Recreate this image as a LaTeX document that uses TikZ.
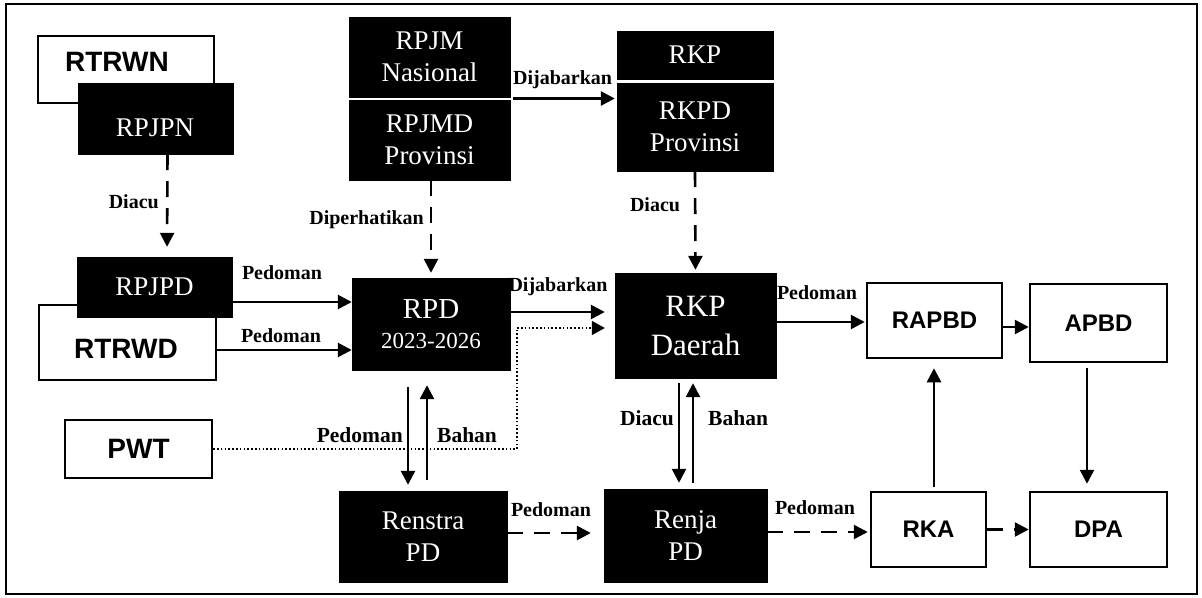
\documentclass[tikz,border=0pt]{standalone}
\usepackage{fontspec}
\setmainfont{Liberation Serif}
\newfontfamily\sansb{Liberation Sans}
\usetikzlibrary{arrows.meta,calc}
\begin{document}
\begin{tikzpicture}[x=1pt,y=-1pt,
  blk/.style={fill=black,draw=black,text=white,align=center,inner sep=0pt,font=\fontsize{27}{32}\selectfont},
  wtxt/.style={text=white,inner sep=0pt,font=\fontsize{27}{32}\selectfont},
  wbox/.style={fill=white,draw=black,line width=2.5pt,inner sep=0pt,align=center},
  bigsans/.style={font=\sansb\bfseries\fontsize{28}{30}\selectfont,inner sep=0pt},
  midsans/.style={font=\sansb\bfseries\fontsize{24}{26}\selectfont},
  lbl/.style={font=\bfseries\fontsize{20}{22}\selectfont,inner sep=1pt},
  lblb/.style={font=\bfseries\fontsize{21.5}{23}\selectfont,inner sep=1pt},
  arr/.style={line width=2.6pt,-{Triangle[length=14pt,width=14pt]}},
  darr/.style={arr,dash pattern=on 16pt off 11pt},
  dotl/.style={line width=1.6pt,dash pattern=on 1.6pt off 2.2pt},
  dotarr/.style={dotl,-{Triangle[length=13pt,width=14pt]}},
]
\useasboundingbox (0,0) rectangle (1202,597);
\draw[line width=1.2pt] (6,4) rectangle (1197,594);

% white boxes behind
\node[wbox,minimum width=176pt,minimum height=67pt] (rtrwn) at (126,69.5) {};
\node[bigsans] (rtrwnt) at (117,62) {RTRWN};
\node[wbox,minimum width=177pt,minimum height=75pt] (rtrwd) at (127.5,342.5) {};
\node[bigsans] (rtrwdt) at (126,349) {RTRWD};

% black boxes
\node[blk,minimum width=155pt,minimum height=71pt] (rpjpn) at (155.5,118.5) {};
\node[wtxt] (rpjpnt) at (155,128) {RPJPN};
\node[blk,minimum width=155pt,minimum height=60pt] (rpjpd) at (154.5,287) {RPJPD};
\node[blk,minimum width=161pt,minimum height=80pt] (rpjm) at (429.5,57) {RPJM\\Nasional};
\node[blk,minimum width=161pt,minimum height=80pt] (rpjmd) at (429.5,140) {RPJMD\\Provinsi};
\node[blk,minimum width=156pt,minimum height=48pt] (rkp) at (695,55) {RKP};
\node[blk,minimum width=156pt,minimum height=88pt] (rkpd) at (695,127) {RKPD\\Provinsi};
\node[blk,minimum width=158pt,minimum height=92pt] (rpd) at (431,324) {{\fontsize{29}{30}\selectfont RPD}\\[-2pt]{\fontsize{23}{26}\selectfont 2023-2026}};
\node[blk,minimum width=161pt,minimum height=105pt,font=\fontsize{31}{39}\selectfont] (rkpdaerah) at (695.5,325.5) {RKP\\Daerah};
\node[blk,minimum width=168pt,minimum height=91pt] (renstra) at (423,536.5) {Renstra\\PD};
\node[blk,minimum width=163pt,minimum height=93pt] (renja) at (685.5,535.5) {Renja\\PD};

% white boxes
\node[wbox,bigsans,minimum width=147pt,minimum height=58pt] (pwt) at (138.5,449) {PWT};
\node[wbox,midsans,minimum width=135pt,minimum height=75pt] (rapbd) at (934.5,320.5) {RAPBD};
\node[wbox,midsans,minimum width=137pt,minimum height=78pt] (apbd) at (1098.5,323) {APBD};
\node[wbox,midsans,minimum width=115pt,minimum height=75pt] (rka) at (928.5,529.5) {RKA};
\node[wbox,midsans,minimum width=137pt,minimum height=75pt] (dpa) at (1098.5,529.5) {DPA};

% coordinates
\coordinate (dj1) at ($(rpjm.south east)!0.5!(rpjmd.north east)$);
\coordinate (p1) at ([yshift=-15pt]rpjpd.east);
\coordinate (p2) at ([yshift=-7.5pt]rtrwd.east);
\coordinate (p3) at ([yshift=12pt]rpd.east);
\coordinate (p4) at ([xshift=7pt,yshift=-4pt]rpd.east);
\coordinate (p5) at ([yshift=3.5pt]renstra.east);
\coordinate (p6) at ([yshift=3.5pt]rkpdaerah.east);
\coordinate (p7) at ([yshift=3.5pt]renja.east);
\coordinate (p8) at ([yshift=-6.5pt]rapbd.east);

% connectors
\draw[darr,shorten >=10pt] ([xshift=12pt]rpjpn.south) -- ([xshift=12.5pt]rpjpd.north);
\draw[darr,shorten >=5pt] ([xshift=1.5pt]rpjmd.south) -- (rpd.north);
\draw[arr,shorten <=3pt,shorten >=2pt] (dj1) -- (dj1 -| rkpd.west);
\draw[darr,shorten >=3pt] (rkpd.south) -- (rkpdaerah.north);
\draw[arr] (p1) -- (p1 -| rpd.west);
\draw[arr] (p2) -- (p2 -| rpd.west);
\draw[arr,shorten >=10pt] (p3) -- (p3 -| rkpdaerah.west);
\draw[dotl] (pwt.east) -- (pwt.east -| p4) -- (p4);
\draw[dotarr,shorten >=10pt] (p4) -- (p4 -| rkpdaerah.west);
\draw[arr,shorten <=17pt,shorten >=6pt] ([xshift=-23pt]rpd.south) -- ([xshift=-15pt]renstra.north);
\draw[arr,shorten <=11pt,shorten >=15pt] ([xshift=4pt]renstra.north) -- ([xshift=-4pt]rpd.south);
\draw[darr,shorten >=13pt] (p5) -- (p5 -| renja.west);
\draw[arr,shorten <=5pt,shorten >=6pt] ([xshift=-16.5pt]rkpdaerah.south) -- ([xshift=-6.5pt]renja.north);
\draw[arr,shorten <=6pt,shorten >=5pt] ([xshift=7.5pt]renja.north) -- ([xshift=-2.5pt]rkpdaerah.south);
\draw[arr,shorten >=1pt] (p6) -- (p6 -| rapbd.west);
\draw[darr,shorten >=2pt] (p7) -- (p7 -| rka.west);
\draw[darr] (rka.east) -- (dpa.west);
\draw[arr,shorten <=4pt,shorten >=9pt] ([xshift=5.5pt]rka.north) -- ([xshift=-0.5pt]rapbd.south);
\draw[arr] (p8) -- (p8 -| apbd.west);
\draw[arr,shorten <=5pt,shorten >=7pt] ([xshift=-11.5pt]apbd.south) -- ([xshift=-11.5pt]dpa.north);

% labels
\node[lbl,anchor=east] (l1) at (160,202) {Diacu};
\node[lbl,anchor=east] (l2) at (425,220) {Diperhatikan};
\node[lbl,anchor=west] (l3) at (512,80) {Dijabarkan};
\node[lbl] (l4) at (655,205) {Diacu};
\node[lbl] (l5) at (282,273) {Pedoman};
\node[lbl] (l6) at (281,336) {Pedoman};
\node[lbl] (l7) at (558,287) {Dijabarkan};
\node[lbl] (l8) at (817,293) {Pedoman};
\node[lblb,anchor=east] (l9) at (404,435) {Pedoman};
\node[lblb,anchor=west] (l10) at (436,435) {Bahan};
\node[lblb,anchor=east] (l11) at (675,418) {Diacu};
\node[lblb,anchor=west] (l12) at (707,418) {Bahan};
\node[lbl] (l13) at (551,510) {Pedoman};
\node[lbl] (l14) at (815,508) {Pedoman};
\end{tikzpicture}
\end{document}
